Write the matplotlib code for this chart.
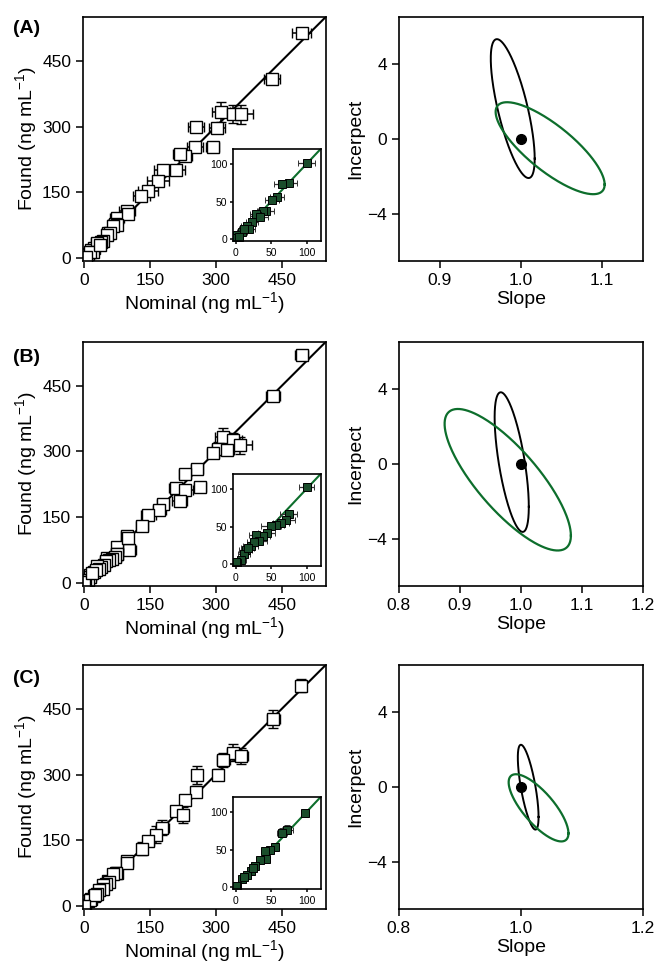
import numpy as np
import matplotlib
matplotlib.use("Agg")
import matplotlib.pyplot as plt

plt.rcParams['font.family'] = ['Liberation Sans', 'DejaVu Sans']
plt.rcParams['mathtext.default'] = 'regular'

GREEN_LINE = '#0d6e2c'
GREEN_FILL = '#1a4d2b'

# ---- panel A ----
nomA = [495, 428, 311, 338, 357, 255, 302, 253, 293, 229, 217, 208, 179, 168, 145, 130, 97, 74, 70, 55]
foundA = [513, 409, 333, 328, 328, 299, 297, 254, 254, 232, 238, 201, 201, 175, 152, 141, 107, 92, 77, 58]
xerrA = [22, 18, 20, 25, 28, 18, 18, 18, 15, 16, 15, 22, 20, 25, 22, 20, 18, 16, 15, 14]
yerrA = [8, 8, 22, 20, 22, 8, 10, 8, 8, 10, 8, 10, 10, 8, 10, 8, 8, 6, 6, 6]
nomA_lo = [100, 75, 65, 58, 51, 43, 39, 30, 23, 16, 9, 2, 0, 29, 19, 12, 35, 5]
foundA_lo = [101, 75, 73, 56, 52, 38, 37, 31, 23, 17, 10, 6, 1, 33, 14, 13, 30, 3]
xerrA_lo = [12, 12, 11, 10, 10, 11, 9, 10, 9, 8, 7, 5, 4, 9, 8, 7, 10, 5]
yerrA_lo = [3, 4, 4, 3, 3, 3, 3, 3, 3, 2, 2, 2, 1, 3, 2, 2, 3, 2]
# joint confidence ellipses: slope centre, intercept centre, slope half-range, intercept half-range, correlation
ellA_black = (0.990, 1.62, 0.027, 3.70, -0.72)
ellA_green = (1.036, -0.49, 0.067, 2.45, -0.79)

# ---- panel B ----
nomB = [495, 430, 315, 339, 354, 305, 324, 294, 256, 230, 210, 230, 264, 217, 180, 171, 146, 131, 97, 101, 74, 74, 52]
foundB = [520, 426, 334, 327, 314, 306, 304, 296, 261, 248, 217, 213, 220, 188, 180, 167, 155, 130, 107, 76, 82, 65, 56]
xerrB = [14, 17, 17, 20, 28, 14, 17, 14, 14, 14, 17, 17, 14, 17, 14, 14, 17, 14, 14, 17, 12, 12, 12]
yerrB = [10, 10, 20, 15, 20, 15, 10, 10, 10, 10, 10, 10, 8, 10, 8, 8, 8, 8, 8, 8, 6, 6, 6]
nomB_lo = [100, 75, 71, 64, 57, 50, 44, 38, 29, 33, 21, 14, 12, 8, 2, 26, 0, 17]
foundB_lo = [103, 67, 59, 54, 52, 51, 42, 37, 39, 31, 24, 19, 13, 6, 1, 30, 3, 22]
xerrB_lo = [11, 12, 12, 11, 11, 14, 12, 11, 10, 11, 10, 9, 8, 6, 5, 10, 3, 9]
yerrB_lo = [5, 5, 5, 4, 4, 4, 3, 3, 3, 3, 3, 3, 2, 2, 2, 3, 1, 3]
ellB_black = (0.985, 0.10, 0.028, 3.72, -0.64)
ellB_green = (0.9785, -0.84, 0.1035, 3.77, -0.79)

# ---- panel C ----
nomC = [494, 431, 339, 357, 317, 305, 257, 255, 229, 210, 225, 178, 163, 146, 131, 97, 74, 55]
foundC = [503, 427, 350, 343, 333, 300, 299, 261, 242, 217, 208, 179, 163, 148, 131, 102, 76, 57]
xerrC = [12, 14, 14, 17, 14, 12, 12, 12, 12, 12, 12, 14, 12, 12, 12, 12, 10, 10]
yerrC = [15, 20, 20, 18, 15, 12, 20, 12, 10, 12, 18, 18, 20, 12, 15, 12, 10, 8]
nomC_lo = [97, 73, 65, 56, 49, 42, 43, 34, 28, 22, 16, 9, 2, 12, 25, 0]
foundC_lo = [99, 76, 72, 54, 50, 48, 38, 36, 28, 22, 16, 11, 2, 14, 25, 1]
xerrC_lo = [4, 8, 7, 5, 5, 5, 6, 5, 4, 4, 4, 3, 2, 3, 4, 2]
yerrC_lo = [2, 6, 6, 4, 3, 3, 3, 3, 3, 2, 2, 2, 1, 2, 2, 1]
ellC_black = (1.012, -0.01, 0.017, 2.26, -0.70)
ellC_green = (1.029, -1.11, 0.049, 1.79, -0.76)

panels = [
    ("(A)", nomA, foundA, xerrA, yerrA, nomA_lo, foundA_lo, xerrA_lo, yerrA_lo,
     ellA_black, ellA_green, (0.85, 1.15), [0.9, 1.0, 1.1]),
    ("(B)", nomB, foundB, xerrB, yerrB, nomB_lo, foundB_lo, xerrB_lo, yerrB_lo,
     ellB_black, ellB_green, (0.8, 1.2), [0.8, 0.9, 1.0, 1.1, 1.2]),
    ("(C)", nomC, foundC, xerrC, yerrC, nomC_lo, foundC_lo, xerrC_lo, yerrC_lo,
     ellC_black, ellC_green, (0.8, 1.2), [0.8, 1.0, 1.2]),
]

row_bottoms = [0.7298, 0.3934, 0.059]
row_h = 0.2526
label_y = [0.971, 0.630, 0.298]


def ellipse(cs, ci, ss, si, r):
    t = np.linspace(0, 2 * np.pi, 300)
    x = cs + ss * np.cos(t)
    y = ci + si * (r * np.cos(t) + np.sqrt(1 - r ** 2) * np.sin(t))
    return x, y


def style(ax, size=12.5, length=5):
    for s in ax.spines.values():
        s.set_linewidth(1.2)
    ax.tick_params(direction='out', length=length, width=1.1, labelsize=size,
                   top=False, right=False)


fig = plt.figure(figsize=(6.56, 9.66), dpi=100)

for i, (lab, nom, fnd, xe, ye, nlo, flo, xelo, yelo, eb, eg, slim, sticks) in enumerate(panels):
    b = row_bottoms[i]
    ax = fig.add_axes([0.1265, b, 0.370, row_h])
    ax.plot([0, 550], [0, 550], color='black', lw=1.5, zorder=1)
    ax.errorbar(nom + nlo, fnd + flo, xerr=xe + xelo, yerr=ye + yelo, fmt='s',
                ms=8.5, mfc='white', mec='black', mew=1.0, ecolor='black',
                elinewidth=1.1, capsize=3.5, zorder=2)
    ax.set_xlim(-3, 550)
    ax.set_ylim(-7, 550)
    ax.set_xticks([0, 150, 300, 450])
    ax.set_yticks([0, 150, 300, 450])
    style(ax)
    ax.set_xlabel('Nominal (ng mL$^{-1}$)', fontsize=14, labelpad=2)
    ax.set_ylabel('Found (ng mL$^{-1}$)', fontsize=14, labelpad=2)

    ins = ax.inset_axes([0.62, 0.08, 0.36, 0.38])
    ins.plot([0, 120], [0, 120], color=GREEN_LINE, lw=1.5, zorder=1)
    ins.errorbar(nlo, flo, xerr=xelo, yerr=yelo, fmt='s', ms=5.5,
                 mfc=GREEN_FILL, mec='black', mew=0.7, ecolor='#333333',
                 elinewidth=0.9, capsize=2, zorder=2)
    ins.set_xlim(-3, 120)
    ins.set_ylim(-3, 120)
    ins.set_xticks([0, 50, 100])
    ins.set_yticks([0, 50, 100])
    style(ins, size=7.5, length=2.5)
    ins.tick_params(pad=2)

    axr = fig.add_axes([0.608, b, 0.372, row_h])
    x, y = ellipse(*eb)
    axr.plot(x, y, color='black', lw=1.4)
    x, y = ellipse(*eg)
    axr.plot(x, y, color=GREEN_LINE, lw=1.6)
    axr.plot([1.0], [0.0], 'o', color='black', ms=7)
    axr.set_xlim(*slim)
    axr.set_ylim(-6.5, 6.5)
    axr.set_xticks(sticks)
    axr.set_xticklabels(['%.1f' % v for v in sticks])
    axr.set_yticks([-4, 0, 4])
    style(axr)
    axr.set_xlabel('Slope', fontsize=14, labelpad=2)
    axr.set_ylabel('Incerpect', fontsize=14, labelpad=2)

    fig.text(0.02, label_y[i], lab, fontsize=14, fontweight='bold', va='center')

fig.savefig('out.png', dpi=100)
